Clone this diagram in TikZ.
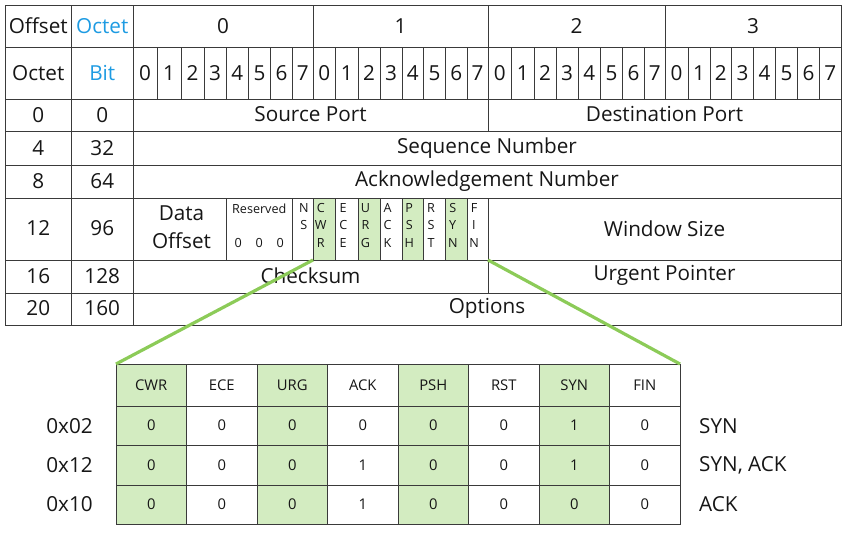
\documentclass[tikz,border=0pt]{standalone}
\usepackage{fontspec}
\setmainfont{Open Sans}
\usetikzlibrary{calc}
\definecolor{ink}{HTML}{161616}
\definecolor{gridc}{HTML}{3A3A3A}
\definecolor{headblue}{HTML}{1E9BE2}
\definecolor{flaggreen}{HTML}{D3ECC1}
\definecolor{zoomgreen}{HTML}{8CCB58}
\begin{document}
\begin{tikzpicture}[x=1pt,y=-1pt,
  gridline/.style={draw=gridc,line width=0.9pt},
  big/.style={text=ink,inner sep=0pt,font=\fontsize{20.7}{23}\selectfont},
  bigblue/.style={big,text=headblue},
  flagtxt/.style={text=ink,inner sep=0pt,font=\fontsize{12.6}{14}\selectfont},
  cell/.style={text=ink,inner sep=0pt,font=\fontsize{14.8}{16}\selectfont},
  flagfill/.style={fill=flaggreen},
  zoomline/.style={draw=zoomgreen,line width=3.2pt}]
\useasboundingbox (0,0) rectangle (849,533);

% bit boundaries of the 32-bit header word
\foreach \x [count=\i from 0] in {133,157,181,204,226,248.5,270.5,292.5,313,
  335.5,358,380,402,423.5,445.5,467,488,511.5,534,556,578,600.5,622.5,644.5,665,
  688,710,731.5,753.5,775.5,797.5,819.5,841}
  \coordinate (b\i) at (\x,0);

% green flag cells (CWR, URG, PSH, SYN)
\foreach \i in {8,10,12,14}{
  \pgfmathtruncatemacro\j{\i+1}
  \fill[flagfill] ($(b\i)+(0,198)$) rectangle ($(b\j)+(0,260)$);
}

% outer frame and row separators
\draw[gridline] (5,5) rectangle (841,325);
\foreach \y in {47,99.5,131.5,165,198,260,293}
  \draw[gridline] (5,\y) -- (841,\y);
\draw[gridline] (71.5,5) -- (71.5,325);
\draw[gridline] (133,5) -- (133,325);
% byte separators in the two heading rows
\foreach \i in {8,16,24}
  \draw[gridline] (b\i) ++(0,5) -- ++(0,94.5);
% bit separators
\foreach \i in {1,...,31}
  \draw[gridline] (b\i) ++(0,47) -- ++(0,52.5);
% field separators
\draw[gridline] (b16) ++(0,99.5) -- ++(0,32);
\draw[gridline] (b16) ++(0,260) -- ++(0,33);
\foreach \i in {4,7,8,...,16}
  \draw[gridline] (b\i) ++(0,198) -- ++(0,62);

% heading texts
\node[big] (hoffset) at (38.25,26) {Offset};
\node[bigblue] (hoctet) at (102.25,26) {Octet};
\node[big] (hoctetrow) at (38.25,73.25) {Octet};
\node[bigblue] (hbit) at (102.25,73.25) {Bit};
\foreach \k in {0,1,2,3}{
  \pgfmathtruncatemacro\a{8*\k}
  \pgfmathtruncatemacro\c{8*\k+8}
  \node[big] (byte\k) at ($(b\a)!0.5!(b\c)+(0,26)$) {\k};
}
\foreach \i in {0,...,31}{
  \pgfmathtruncatemacro\j{\i+1}
  \pgfmathtruncatemacro\d{mod(\i,8)}
  \node[big] (bit\i) at ($(b\i)!0.5!(b\j)+(0,73.25)$) {\d};
}

% offsets
\foreach \o/\bt/\y [count=\n] in {0/0/115,4/32/148,8/64/181.5,12/96/228.5,16/128/276,20/160/308.5}{
  \node[big] (oct\n) at (38.25,\y) {\o};
  \node[big] (bits\n) at (102.25,\y) {\bt};
}

% fields
\node[big] (srcport) at ($(b0)!0.5!(b16)+(0,114.5)$) {Source Port};
\node[big] (dstport) at ($(b16)!0.5!(b32)+(0,114.5)$) {Destination Port};
\node[big] (seqnum) at ($(b0)!0.5!(b32)+(0,148)$) {Sequence Number};
\node[big] (acknum) at ($(b0)!0.5!(b32)+(0,181.5)$) {Acknowledgement Number};
\node[big] (dataoff1) at ($(b0)!0.5!(b4)+(2,213)$) {Data};
\node[big] (dataoff2) at ($(b0)!0.5!(b4)+(2,241)$) {Offset};
\node[flagtxt] (resv) at ($(b4)!0.5!(b7)+(0,209)$) {Reserved};
\node[flagtxt] (resv0) at ($(b4)!0.5!(b7)+(-21,243)$) {0};
\node[flagtxt] (resv1) at ($(b4)!0.5!(b7)+(0,243)$) {0};
\node[flagtxt] (resv2) at ($(b4)!0.5!(b7)+(21,243)$) {0};
\node[flagtxt] (ns1) at ($(b7)!0.5!(b8)+(1,208)$) {N};
\node[flagtxt] (ns2) at ($(b7)!0.5!(b8)+(1,225)$) {S};
\foreach \i/\p/\q/\r in {8/C/W/R,9/E/C/E,10/U/R/G,11/A/C/K,12/P/S/H,13/R/S/T,14/S/Y/N,15/F/I/N}{
  \pgfmathtruncatemacro\j{\i+1}
  \node[flagtxt] (fl\i a) at ($(b\i)!0.5!(b\j)+(-3.5,208)$) {\p};
  \node[flagtxt] (fl\i b) at ($(b\i)!0.5!(b\j)+(-3.5,225)$) {\q};
  \node[flagtxt] (fl\i c) at ($(b\i)!0.5!(b\j)+(-3.5,242.5)$) {\r};
}
\node[big] (winsize) at ($(b16)!0.5!(b32)+(0,228.5)$) {Window Size};
\node[big] (checksum) at ($(b0)!0.5!(b16)+(0,275.5)$) {Checksum};
\node[big] (urgptr) at ($(b16)!0.5!(b32)+(0,275.5)$) {Urgent Pointer};
\node[big] (options) at ($(b0)!0.5!(b32)+(0,308.5)$) {Options};

% expanded flag table
\begin{scope}
  \foreach \k in {0,2,4,6}
    \fill[flagfill] ({116+70.5*\k},364) rectangle ({116+70.5*(\k+1)},524);
  \draw[gridline] (116,364) rectangle (680,524);
  \foreach \y in {406,445.5,485}
    \draw[gridline] (116,\y) -- (680,\y);
  \foreach \k in {1,...,7}
    \draw[gridline] ({116+70.5*\k},364) -- ({116+70.5*\k},524);
  \foreach \f [count=\k from 0] in {CWR,ECE,URG,ACK,PSH,RST,SYN,FIN}
    \node[cell] (th\k) at ({116+70.5*(\k+0.5)},385) {\f};
  \foreach \r/\y/\vals in {1/425.5/{0,0,0,0,0,0,1,0},2/465/{0,0,0,1,0,0,1,0},3/504.5/{0,0,0,1,0,0,0,0}}{
    \foreach \v [count=\k from 0] in \vals
      \node[cell] (td\r-\k) at ({116+70.5*(\k+0.5)},\y) {\v};
  }
  \node[big] (hex1) at (69.5,426) {0x02};
  \node[big] (hex2) at (69.5,465) {0x12};
  \node[big] (hex3) at (69.5,504) {0x10};
  \node[big,anchor=west] (name1) at (699,426) {SYN};
  \node[big,anchor=west] (name2) at (699,465) {SYN, ACK};
  \node[big,anchor=west] (name3) at (699,504) {ACK};
  \coordinate (tabnw) at (116,364);
  \coordinate (tabne) at (680,364);
\end{scope}

% zoom connectors from the flag bits to the expanded table
\coordinate (cwrfoot) at ($(b8)+(0,260)$);
\coordinate (finfoot) at ($(b16)+(0,260)$);
\draw[zoomline] (cwrfoot) -- (tabnw);
\draw[zoomline] (finfoot) -- (tabne);
\end{tikzpicture}
\end{document}
